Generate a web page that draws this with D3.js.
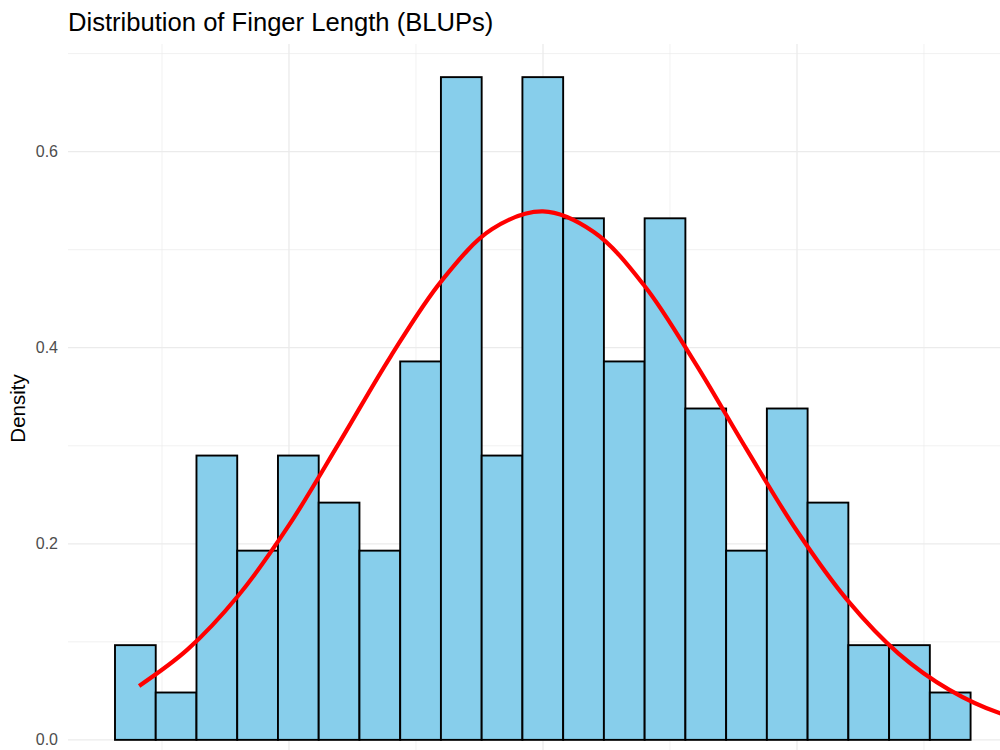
<!DOCTYPE html>
<html>
<head>
<meta charset="utf-8">
<script src="https://cdn.jsdelivr.net/npm/d3@7"></script>
<style>
  body { margin: 0; background: #fff; }
  svg { display: block; font-family: "Liberation Sans", Arial, sans-serif; }
</style>
</head>
<body>
<div id="chart"></div>
<script>
// histogram bins (density); last two bins are empty
const binStart = -1.685;
const binWidth = 0.1604;
const binDensity = [0.0966, 0.0483, 0.290, 0.193, 0.290, 0.242, 0.193, 0.386, 0.676, 0.290,
                    0.676, 0.532, 0.386, 0.532, 0.338, 0.193, 0.338, 0.242, 0.0966, 0.0966,
                    0.0483, 0, 0];

// fitted normal curve
const curveX = [-1.59, -1.4, -1.2, -1.0, -0.8, -0.6, -0.4, -0.2, 0, 0.2, 0.4, 0.6, 0.8, 1.0, 1.2, 1.4, 1.6, 1.8, 2.0];
const curveY = [0.055, 0.092, 0.147, 0.219, 0.304, 0.391, 0.468, 0.521, 0.539, 0.518, 0.463, 0.384, 0.297, 0.213, 0.142, 0.088, 0.051, 0.027, 0.014];

const yMajor = [0, 0.2, 0.4, 0.6];
const yMinor = [0.1, 0.3, 0.5, 0.7];
const xMajor = [-1, 0, 1];
const xMinor = [-1.5, -0.5, 0.5, 1.5];

const W = 1000, H = 750;
const svg = d3.select("#chart").append("svg")
  .attr("width", W).attr("height", H)
  .attr("viewBox", [0, 0, W, H]);

// panel runs past the right/bottom edge (the picture is cropped)
const x = d3.scaleLinear().domain([-1.870, 2.0]).range([68, 1051]);
const y = d3.scaleLinear().domain([-0.0338, 0.7098]).range([773, 44]);

const grid = svg.append("g");
grid.selectAll("line.ymin").data(yMinor).join("line")
  .attr("x1", 68).attr("x2", 1051)
  .attr("y1", d => y(d)).attr("y2", d => y(d))
  .attr("stroke", "#EBEBEB").attr("stroke-width", 0.7);
grid.selectAll("line.xmin").data(xMinor).join("line")
  .attr("x1", d => x(d)).attr("x2", d => x(d))
  .attr("y1", 44).attr("y2", 773)
  .attr("stroke", "#EBEBEB").attr("stroke-width", 0.7);
grid.selectAll("line.ymaj").data(yMajor).join("line")
  .attr("x1", 68).attr("x2", 1051)
  .attr("y1", d => y(d)).attr("y2", d => y(d))
  .attr("stroke", "#EBEBEB").attr("stroke-width", 1.3);
grid.selectAll("line.xmaj").data(xMajor).join("line")
  .attr("x1", d => x(d)).attr("x2", d => x(d))
  .attr("y1", 44).attr("y2", 773)
  .attr("stroke", "#EBEBEB").attr("stroke-width", 1.3);

// bars
svg.append("g").selectAll("rect").data(binDensity).join("rect")
  .attr("x", (d, i) => x(binStart + i * binWidth))
  .attr("width", (d, i) => x(binStart + (i + 1) * binWidth) - x(binStart + i * binWidth))
  .attr("y", d => y(d))
  .attr("height", d => y(0) - y(d))
  .attr("fill", "#87CEEB")
  .attr("stroke", "black")
  .attr("stroke-width", 1.9);

// density curve
const line = d3.line()
  .x(d => x(d[0])).y(d => y(d[1]))
  .curve(d3.curveCatmullRom);
svg.append("path")
  .datum(curveX.map((v, i) => [v, curveY[i]]))
  .attr("d", line)
  .attr("fill", "none")
  .attr("stroke", "red")
  .attr("stroke-width", 4.2);

// y axis labels
svg.append("g").selectAll("text").data(yMajor).join("text")
  .attr("x", 58).attr("y", d => y(d))
  .attr("dy", "0.35em")
  .attr("text-anchor", "end")
  .attr("font-size", 16)
  .attr("fill", "#4D4D4D")
  .text(d => d3.format(".1f")(d));

svg.append("text")
  .attr("transform", "translate(25," + ((44 + 773) / 2) + ") rotate(-90)")
  .attr("text-anchor", "middle")
  .attr("font-size", 20.5)
  .attr("fill", "black")
  .text("Density");

svg.append("text")
  .attr("x", 68).attr("y", 31)
  .attr("font-size", 25.6)
  .attr("fill", "black")
  .text("Distribution of Finger Length (BLUPs)");
</script>
</body>
</html>
